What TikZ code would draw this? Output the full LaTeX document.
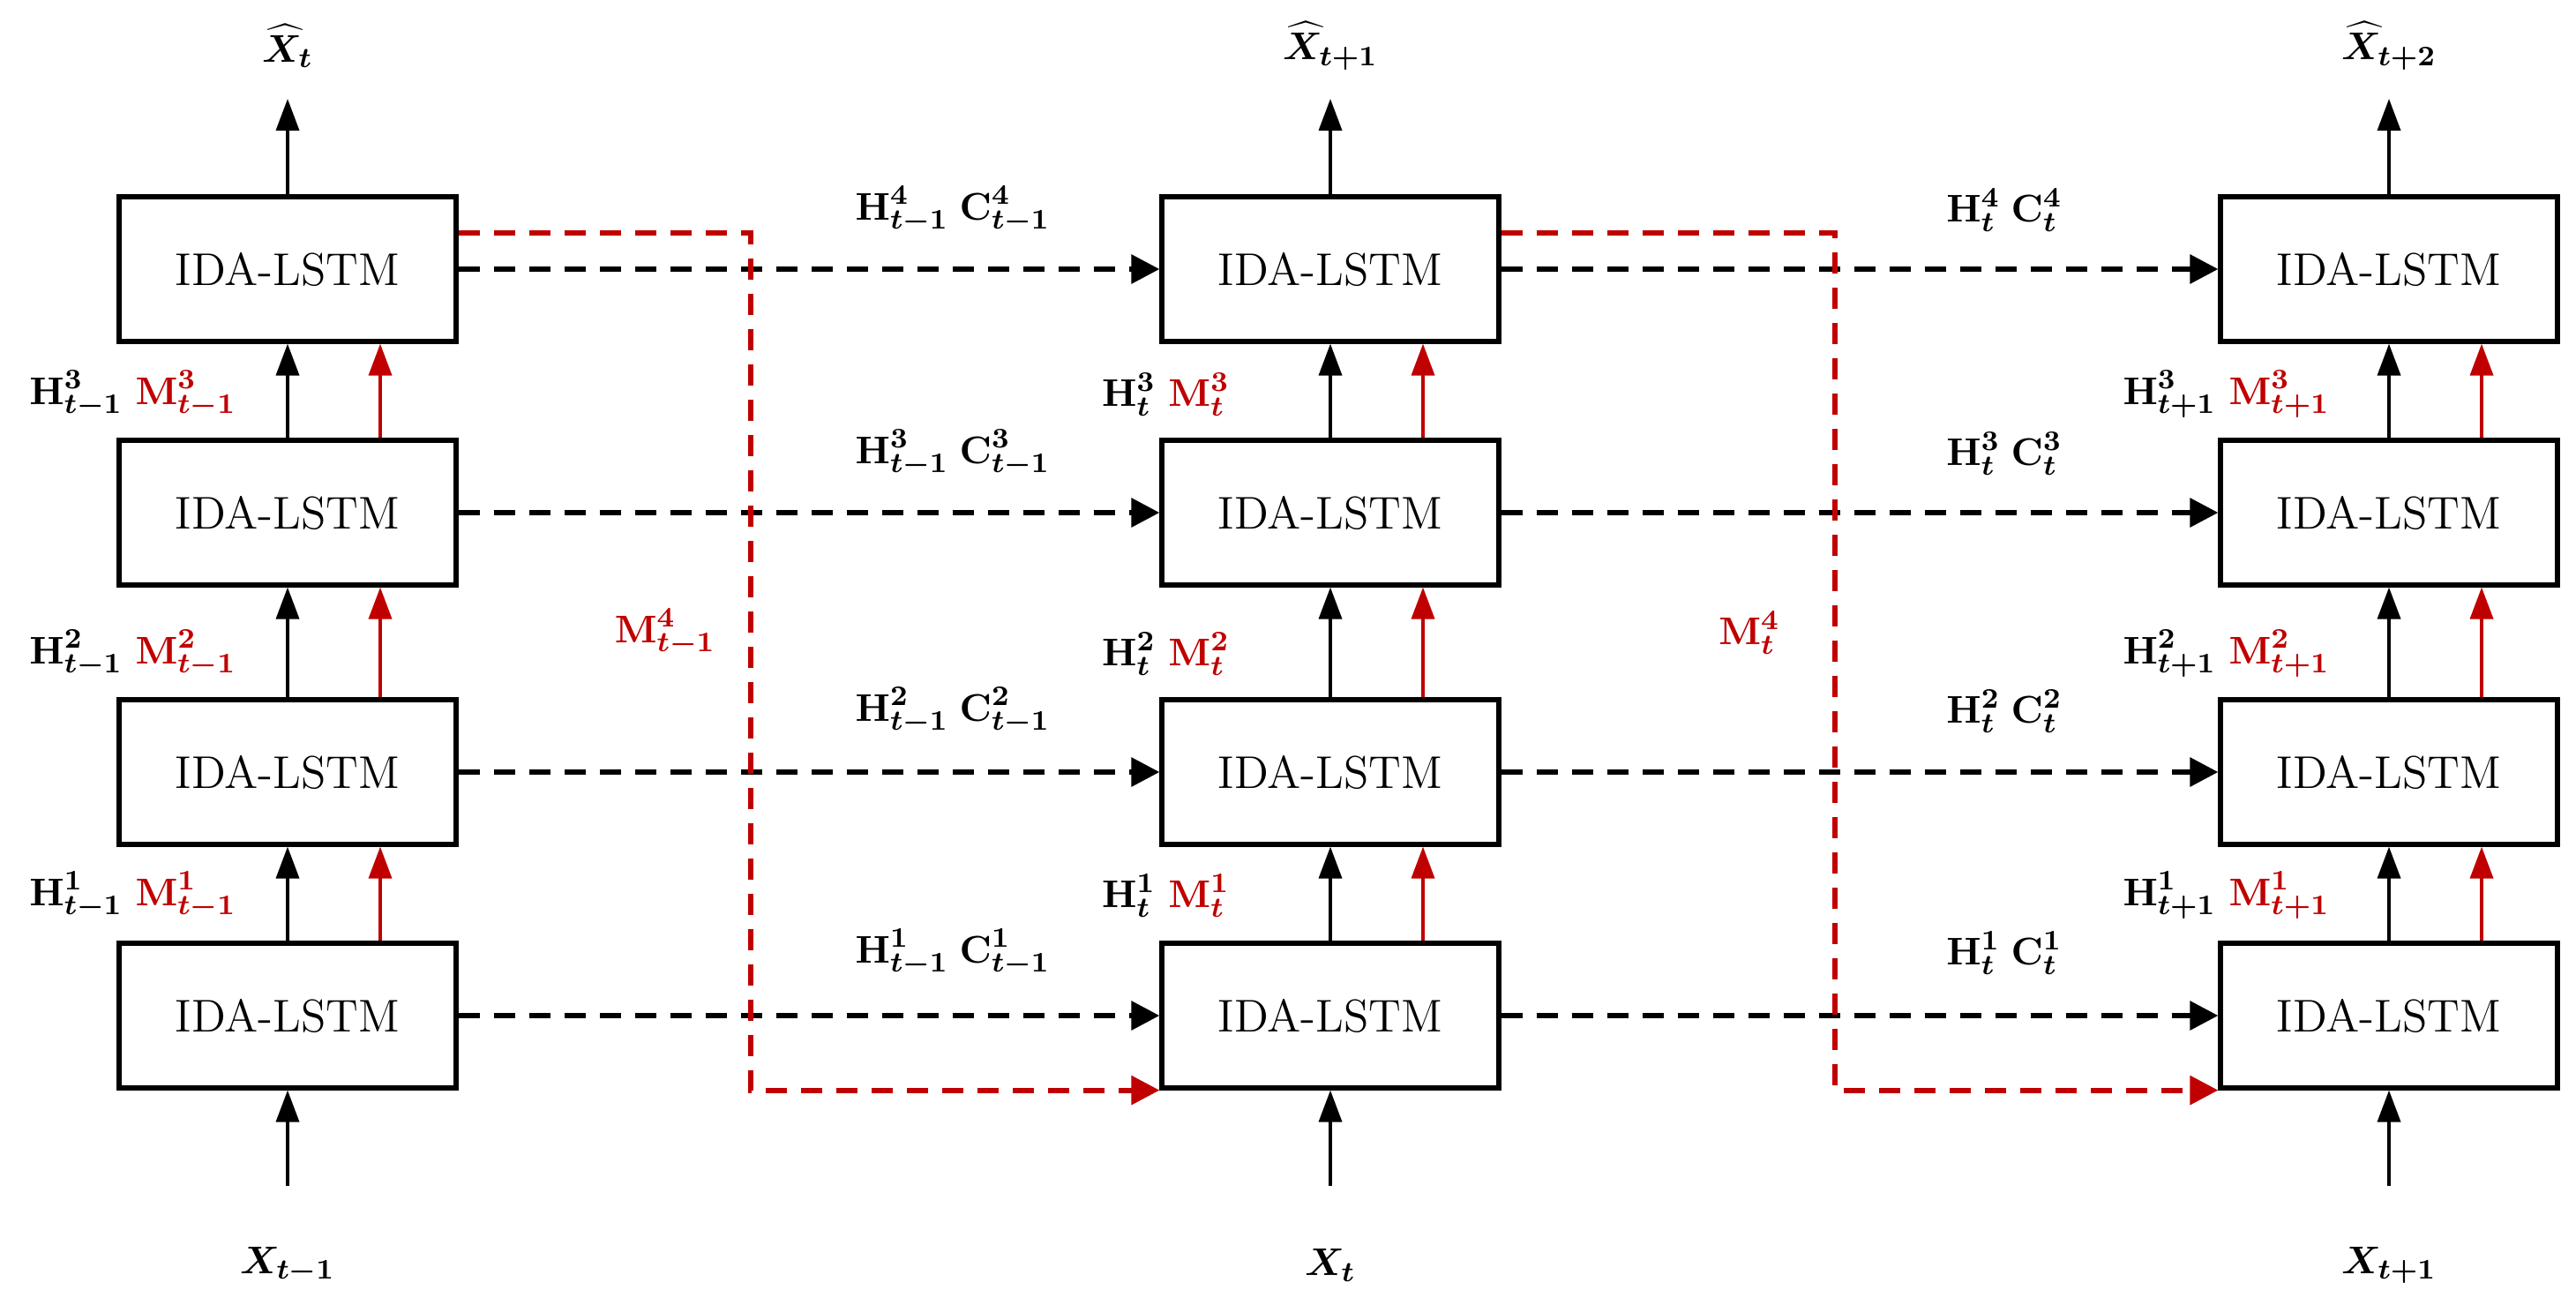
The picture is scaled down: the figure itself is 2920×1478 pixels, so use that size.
\documentclass[tikz,border=0pt]{standalone}
\usepackage{bm}
\usetikzlibrary{arrows.meta}
\definecolor{mred}{RGB}{192,0,0}
\tikzset{
  cell/.style={draw, line width=1.3pt, minimum width=95.5pt, minimum height=41pt,
               font=\fontsize{13}{15}\selectfont},
  up/.style={line width=0.9pt, -{Triangle[length=9pt,width=6.5pt]}},
  state/.style={line width=1.5pt, dash pattern=on 6pt off 4pt, -{Triangle[length=8pt,width=8pt]}},
  mem/.style={state, mred},
  lab/.style={font=\fontsize{11}{13}\selectfont},
}
\begin{document}
\begin{tikzpicture}[x=0.25pt, y=-0.25pt]
\useasboundingbox (0,0) rectangle (2920,1478);
% cells: columns t-1, t, t+1 ; rows 1 (bottom) .. 4 (top)
\foreach \c/\x in {a/326, b/1508, c/2708}
  \foreach \r/\y in {1/1151, 2/875, 3/581, 4/305}
    \node[cell] (\c\r) at (\x,\y) {IDA-LSTM};
% inputs and outputs
\foreach \c/\x/\i/\o in {a/326/{t-1}/t, b/1508/t/{t+1}, c/2708/{t+1}/{t+2}} {
  \node[lab] (in\c) at (\x,1434) {$\bm{X_{\i}}$};
  \node[lab] (out\c) at (\x,52) {$\bm{\widehat{X}_{\o}}$};
  \coordinate (s\c) at (\x,1344);
  \coordinate (e\c) at (\x,112);
  \draw[up] (s\c) -- (\c1);
  \draw[up] (\c4) -- (e\c);
}
% vertical links inside a column
\foreach \c in {a,b,c}
  \foreach \r/\n in {1/2, 2/3, 3/4} {
    \draw[up] (\c\r) -- (\c\n);
    \draw[up, mred] ([xshift=26.25pt]\c\r.north) -- ([xshift=26.25pt]\c\n.south);
  }
% hidden and memory labels between cells
\foreach \r/\y in {1/1015, 2/741, 3/447} {
  \node[lab, anchor=east] (la\r) at (282,\y) {$\bm{\mathrm{H}^{\r}_{t-1}}$ \textcolor{mred}{$\bm{\mathrm{M}^{\r}_{t-1}}$}};
  \node[lab, anchor=east] (lb\r) at (1408,\y) {$\bm{\mathrm{H}^{\r}_{t}}$ \textcolor{mred}{$\bm{\mathrm{M}^{\r}_{t}}$}};
  \node[lab, anchor=east] (lc\r) at (2655,\y) {$\bm{\mathrm{H}^{\r}_{t+1}}$ \textcolor{mred}{$\bm{\mathrm{M}^{\r}_{t+1}}$}};
}
% horizontal state links
\foreach \r/\y in {1/1080, 2/806, 3/514, 4/238} {
  \draw[state] (a\r) -- (b\r);
  \draw[state] (b\r) -- (c\r);
  \node[lab] (hca\r) at (1080,\y) {$\bm{\mathrm{H}^{\r}_{t-1}}$\;$\bm{\mathrm{C}^{\r}_{t-1}}$};
  \node[lab] (hcb\r) at (2272,\y) {$\bm{\mathrm{H}^{\r}_{t}}$\;$\bm{\mathrm{C}^{\r}_{t}}$};
}
% memory from top to bottom
\draw[mem] ([yshift=-11pt]a4.north east) -| (851,1000) |- (b1.south west);
\draw[mem] ([yshift=-11pt]b4.north east) -| (2080,1000) |- (c1.south west);
\node[lab, mred] (ma) at (754,717) {$\bm{\mathrm{M}^{4}_{t-1}}$};
\node[lab, mred] (mb) at (1983,717) {$\bm{\mathrm{M}^{4}_{t}}$};
\end{tikzpicture}
\end{document}
